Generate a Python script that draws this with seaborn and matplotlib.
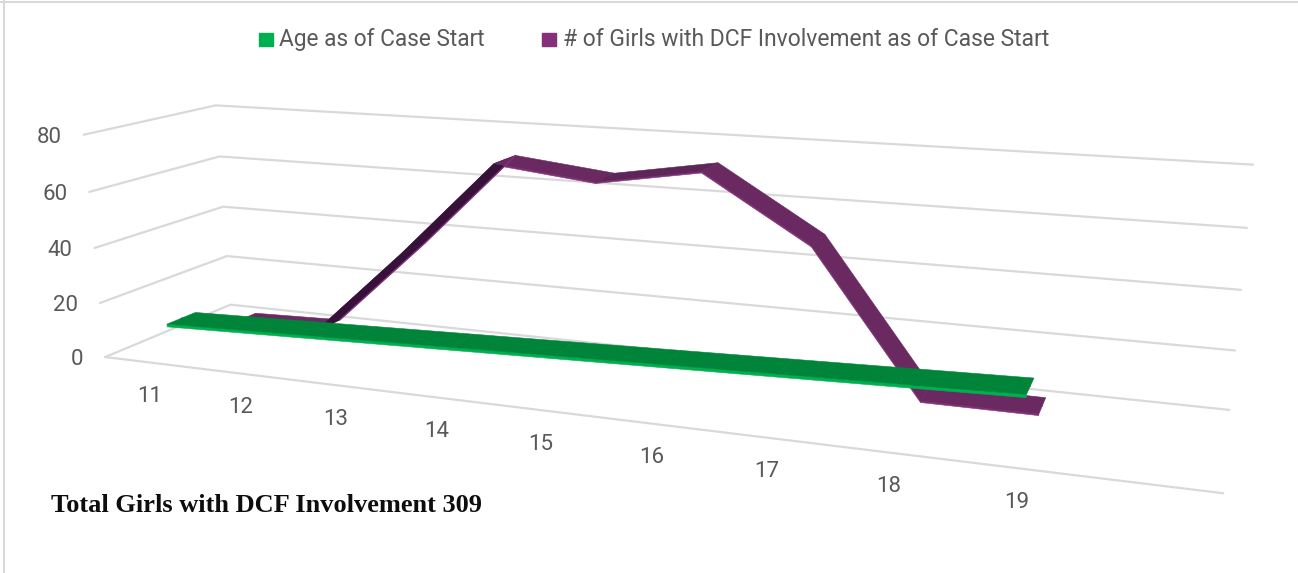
import numpy as np
import pandas as pd
import seaborn as sns
import matplotlib
matplotlib.use("Agg")
import matplotlib.pyplot as plt
from matplotlib.lines import Line2D
from matplotlib.patches import Rectangle

# ---- data ----
age_labels = ["11", "12", "13", "14", "15", "16", "17", "18", "19"]
age_values = [11, 12, 13, 14, 15, 16, 17, 18, 19]
girls_values = [1, 2, 35, 70, 66, 72, 50, 1, 1]
value_ticks = [0, 20, 40, 60, 80]
series_names = ["Age as of Case Start", "# of Girls with DCF Involvement as of Case Start"]
footer = "Total Girls with DCF Involvement 309"

N_CATS = 10   # nine ages plus one blank category
GRID = "#D9D9D9"
TXT = "#595959"

# ---- camera: projective map (category, depth, value) -> picture pixels ----
anchors = [
    ((0, 0, 0), (105, 357)), ((0, 1, 0), (231, 305)), ((10, 1, 0), (1229, 410)), ((10, 0, 0), (1223, 493)),
    ((0, 0, 80), (84, 135)), ((0, 1, 80), (216, 105)), ((10, 1, 80), (1253, 165)),
    ((0, 1, 20), (227, 256)), ((0, 1, 40), (223, 207)), ((0, 1, 60), (219, 156)),
    ((10, 1, 20), (1235, 350)), ((10, 1, 40), (1241, 290)), ((10, 1, 60), (1247, 228)),
]
label_centres = [150, 240, 336, 436, 541, 651, 767, 889, 1018]
rows, rhs = [], []
for (w, (u, v)) in anchors:
    X = [*w, 1]
    rows.append(X + [0, 0, 0, 0] + [-u * c for c in w]); rhs.append(u)
    rows.append([0, 0, 0, 0] + X + [-v * c for c in w]); rhs.append(v)
for i, u in enumerate(label_centres):
    w = (i + 0.5, 0, 0)
    rows.append([*w, 1] + [0, 0, 0, 0] + [-u * c for c in w]); rhs.append(u)
sol = np.linalg.lstsq(np.array(rows, float), np.array(rhs, float), rcond=None)[0]
P = np.append(sol, 1).reshape(3, 4)


def project(x, d, v):
    x, d, v = np.broadcast_arrays(np.asarray(x, float), np.asarray(d, float), np.asarray(v, float))
    h = P @ np.vstack([x.ravel(), d.ravel(), v.ravel(), np.ones(x.size)])
    return h[0] / h[2], h[1] / h[2]


sns.set_theme(style="white")
plt.rcParams["font.family"] = ["Roboto", "DejaVu Sans"]
fig = plt.figure(figsize=(12.98, 5.73), dpi=100, facecolor="white")
ax = fig.add_axes([0, 0, 1, 1])
ax.set_xlim(0, 1298)
ax.set_ylim(573, 0)
ax.axis("off")

# ---- walls and floor ----
grid_rows = []
for k, t in enumerate(value_ticks):
    px, py = project([0, 0, N_CATS], [0, 1, 1], [t, t, t])
    grid_rows += [dict(line=k, px=a, py=b, order=j) for j, (a, b) in enumerate(zip(px, py))]
px, py = project([0, N_CATS], [0, 0], [0, 0])
grid_rows += [dict(line=99, px=a, py=b, order=j) for j, (a, b) in enumerate(zip(px, py))]
sns.lineplot(data=pd.DataFrame(grid_rows), x="px", y="py", units="line", estimator=None, sort=False,
             color=GRID, linewidth=1.6, ax=ax, legend=False, zorder=1)

# ---- ribbons ----


def ribbon(values, d0, d1, top, side, rise, mild, z, thick):
    xs = np.arange(len(values)) + 0.5
    vals = np.asarray(values, float)
    for i in range(len(vals) - 1):
        xq = [xs[i], xs[i + 1], xs[i + 1], xs[i]]
        # front side strip
        fx, fy = project(xq, [d0] * 4, [vals[i], vals[i + 1], vals[i + 1] - thick, vals[i] - thick])
        ax.fill(fx, fy, color=side, lw=0.4, zorder=z)
        # upper surface
        qx, qy = project(xq, [d0, d0, d1, d1], [vals[i], vals[i + 1], vals[i + 1], vals[i]])
        slope = vals[i + 1] - vals[i]
        col = rise if slope > 10 else (mild if slope > 2 else top)
        ax.fill(qx, qy, color=col, lw=0.4, zorder=z + 0.1)
        if slope > 10:
            ex, ey = project(xs[i:i + 2], [d1, d1], vals[i:i + 2])
            ax.plot(ex, ey, color=side, lw=1.0, zorder=z + 0.2)


ribbon(girls_values, 0.63, 0.86, "#6A2A61", "#84307A", "#36123A", "#5E2558", 3, 0.5)
ribbon(age_values, 0.15, 0.37, "#00843A", "#00B050", "#00843A", "#00843A", 5, 1.0)

# seaborn centre lines are the series themselves (hidden inside the ribbons)
frames = []
for name, vals, d in zip(series_names, [age_values, girls_values], [0.26, 0.745]):
    sx, sy = project(np.arange(len(vals)) + 0.5, np.full(len(vals), d), vals)
    frames.append(pd.DataFrame(dict(series=name, px=sx, py=sy, order=np.arange(len(vals)))))
lines = pd.concat(frames, ignore_index=True)
for name, col, z in zip(series_names, ["#00843A", "#6A2A61"], [5.05, 3.05]):
    sns.lineplot(data=lines[lines.series == name], x="px", y="py", sort=False, estimator=None,
                 color=col, linewidth=1, ax=ax, legend=False, zorder=z)

ax.set_xlabel("")
ax.set_ylabel("")

# ---- tick labels ----
for t in value_ticks:
    a, b = project(0, 0, t)
    ax.text(a[0] - 22, b[0] + 2.5, str(t), ha="right", va="center", fontsize=16, color=TXT)
for i, lab in enumerate(age_labels):
    a, b = project(i + 0.5, 0, 0)
    ax.text(a[0], b[0] + 34, lab, ha="center", va="center", fontsize=16, color=TXT)

# ---- legend ----
ax.add_patch(Rectangle((259, 33), 14, 13, color="#00B050", zorder=6))
ax.add_patch(Rectangle((542, 33), 14, 13, color="#84307A", zorder=6))
ax.text(279, 46, series_names[0], ha="left", va="baseline", fontsize=16.3, color=TXT)
ax.text(563, 46, series_names[1], ha="left", va="baseline", fontsize=16.5, color=TXT)

# ---- footer ----
ax.text(51, 505, footer, ha="left", va="center", fontsize=19, fontweight="bold",
        family="Liberation Serif", color="#0D0D0D")

# ---- chart frame ----
fig.add_artist(Line2D([3.5 / 1298, 3.5 / 1298], [0, 1], color=GRID, lw=1.5))
fig.add_artist(Line2D([0, 1], [1 - 1.5 / 573, 1 - 1.5 / 573], color=GRID, lw=1.5))

fig.savefig("out.png", dpi=100, facecolor="white")
